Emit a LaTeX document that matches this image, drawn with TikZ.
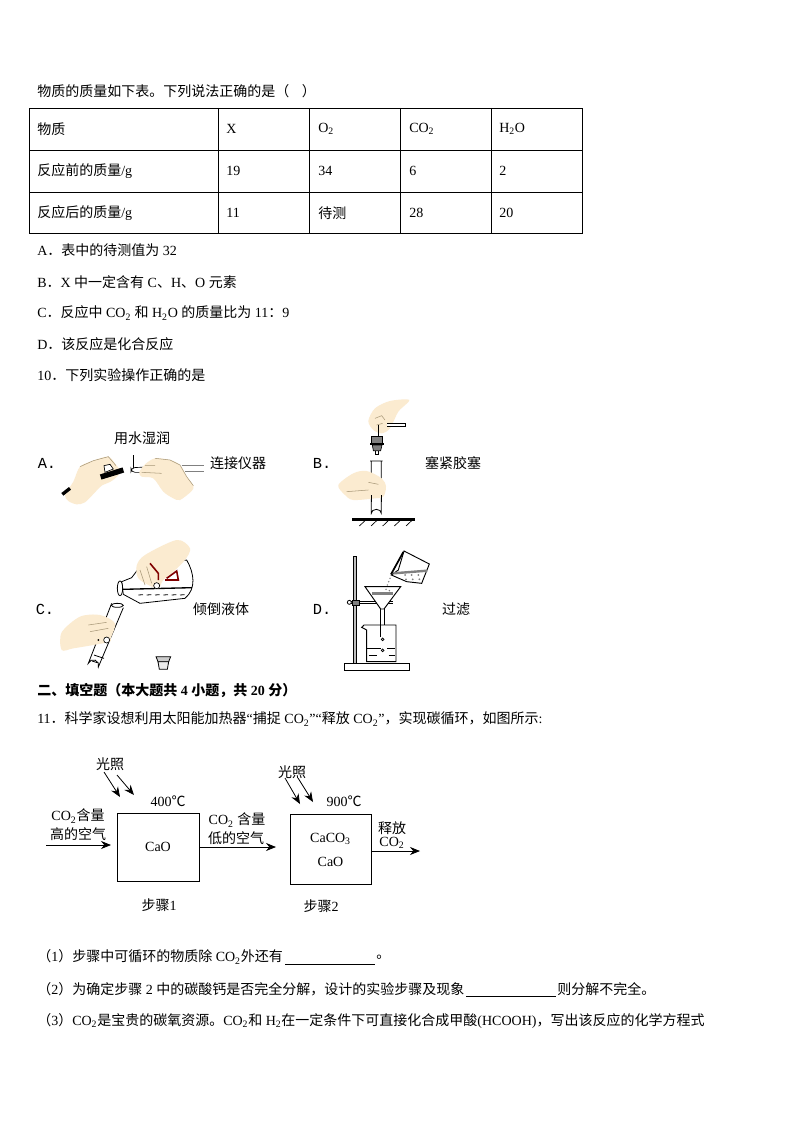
\documentclass[tikz,border=0pt]{standalone}
\usepackage{fontspec}
\setmainfont{Liberation Serif}
\setmonofont{Liberation Mono}
\newfontfamily\cjk{Noto Sans CJK SC}
\newcommand{\zh}[1]{{\cjk #1}}
\newcommand{\low}[1]{\textsubscript{#1}}
\usetikzlibrary{arrows.meta}
\definecolor{handc}{HTML}{FBEBD0}
\definecolor{handl}{HTML}{A89878}
\tikzset{
  txt/.style={anchor=west,inner sep=0pt,font=\fontsize{10.5}{12}\selectfont},
  mid/.style={inner sep=0pt,font=\fontsize{10.5}{12}\selectfont},
  optl/.style={inner sep=0pt,font=\fontsize{11.5}{12}\ttfamily},
  stepbox/.style={draw,line width=.6pt,inner sep=0pt,align=center,font=\fontsize{10.5}{18}\selectfont},
  hand/.style={fill=handc,draw=none},
  crease/.style={draw=handl,line width=.4pt},
  panelA/.style={shift={(30,395)},x=.25pt,y=-.25pt},
  panelB/.style={shift={(310,395)},x=.25pt,y=-.25pt},
  panelC/.style={shift={(30,535)},x=.25pt,y=-.25pt},
  panelD/.style={shift={(310,540)},x=.25pt,y=-.25pt}
}
\begin{document}
\begin{tikzpicture}[x=.75pt,y=-.75pt,>={Stealth[length=7.5pt,width=6pt]}]
\useasboundingbox[fill=white] (0,0) rectangle (794,1123);
\node[txt] (intro) at (37,91) {\zh{物质的质量如下表。下列说法正确的是（\ \ \ \ ）}};
\draw[line width=.7pt] (29,108) rectangle (582,233);
\foreach \yy in {150,192} \draw[line width=.7pt] (29,\yy)--(582,\yy);
\foreach \xx in {218,309,400,491} \draw[line width=.7pt] (\xx,108)--(\xx,233);
\node[txt] (c11) at (37,129) {\zh{物质}};
\node[txt] (c12) at (226,129) {X};
\node[txt] (c13) at (318,129) {O\low{2}};
\node[txt] (c14) at (409,129) {CO\low{2}};
\node[txt] (c15) at (499,129) {H\low{2}O};
\node[txt] (c21) at (37,171) {\zh{反应前的质量}/g};
\node[txt] (c22) at (226,171) {19};
\node[txt] (c23) at (318,171) {34};
\node[txt] (c24) at (409,171) {6};
\node[txt] (c25) at (499,171) {2};
\node[txt] (c31) at (37,213) {\zh{反应后的质量}/g};
\node[txt] (c32) at (226,213) {11};
\node[txt] (c33) at (318,213) {\zh{待测}};
\node[txt] (c34) at (409,213) {28};
\node[txt] (c35) at (499,213) {20};
\node[txt] (optA) at (37,250) {A\zh{．表中的待测值为} 32};
\node[txt] (optB) at (37,282) {B\zh{．}X \zh{中一定含有} C\zh{、}H\zh{、}O \zh{元素}};
\node[txt] (optC) at (37,313) {C\zh{．反应中} CO\low{2} \zh{和} H\low{2}O \zh{的质量比为} 11\zh{：}9};
\node[txt] (optD) at (37,344) {D\zh{．该反应是化合反应}};
\node[txt] (q10) at (37,375) {10\zh{．下列实验操作正确的是}};
\node[optl] (la) at (47,463) {A.};
\node[optl] (lb) at (322,463) {B.};
\node[optl] (lc) at (45,609) {C.};
\node[optl] (ld) at (322,609) {D.};
\node[mid] (capA1) at (142,438) {\zh{用水湿润}};
\node[mid] (capA2) at (238,463) {\zh{连接仪器}};
\node[mid] (capB) at (453,463) {\zh{塞紧胶塞}};
\node[mid] (capC) at (221,609) {\zh{倾倒液体}};
\node[mid] (capD) at (456,609) {\zh{过滤}};
\begin{scope}[panelA]
\fill[hand] plot[smooth cycle] coordinates {(105,300) (130,260) (150,215) (190,197) (235,185) (258,210) (272,232) (245,258) (215,272) (195,292) (165,322) (140,328) (115,318)};
\draw[line width=2.5pt] (97,298)--(120,280);
\draw[crease] (150,215)--(190,197)--(235,185)--(258,212);
\draw[line width=.5pt,fill=white] (222,212)--(240,208)--(250,222)--(225,232)--cycle;
\draw[line width=4pt] (212,246)--(280,225);
\draw[line width=.5pt] (310,180)--(310,222);
\draw[line width=.5pt,fill=white,rounded corners=3pt] (380,215)--(303,218)--(303,232)--(380,232);
\fill[hand] plot[smooth cycle] coordinates {(328,232) (345,208) (375,190) (420,195) (450,210) (470,245) (490,272) (485,288) (450,315) (430,310) (400,290) (370,250) (335,245)};
\draw[crease] (335,232)--(395,235) (345,212)--(375,212) (375,190)--(420,195)--(450,210)--(470,245)--(490,272);
\draw[line width=.7pt,draw=gray] (455,212)--(522,212) (465,228)--(522,228);
\end{scope}
\begin{scope}[panelB]
\fill[hand] plot[smooth cycle] coordinates {(175,78) (195,40) (240,18) (298,15) (265,50) (240,100) (215,115) (190,105)};
\draw[crease] (195,70)--(215,62)--(225,75) (200,90)--(218,85);
\draw[line width=.6pt,fill=white] (232,85)--(285,85)--(285,95)--(232,95);
\draw[line width=.5pt] (205,90)--(205,122);
\draw[line width=.5pt,fill=gray] (185,125)--(218,125)--(218,145)--(185,145)--cycle;
\draw[line width=1.5pt] (181,147)--(222,147);
\draw[line width=.5pt,fill=gray] (187,150)--(216,150)--(212,167)--(190,167)--cycle;
\draw[line width=.5pt] (195,167)--(195,178)--(204,178)--(204,167);
\draw[line width=.6pt] (180,198)--(218,198) (184,198)--(184,355) arc[start angle=180,end angle=360,x radius=15,y radius=12]--(214,198);
\fill[hand] plot[smooth cycle] coordinates {(85,270) (130,235) (170,228) (215,250) (228,275) (220,305) (195,310) (130,315) (105,300)};
\draw[crease] (110,290)--(175,285) (175,262)--(205,268);
\draw[line width=.6pt] (184,300)--(184,320) (214,300)--(214,320);
\draw[line width=2pt] (127,373)--(315,373);
\foreach \xx in {165,200,235,270,305} \draw[line width=.5pt] (\xx,377)--(\xx-17,393);
\end{scope}
\begin{scope}[panelC]
\draw[line width=.6pt,fill=white] (275,140)--(305,128)--(330,95)--(470,75) to[out=-60,in=40] (465,190)--(330,205)--(280,178)--cycle;
\draw[line width=.6pt,fill=white] (270,160) ellipse[x radius=8,y radius=22];
\draw[line width=1pt] (278,163)--(486,158);
\foreach \xx in {325,350,375,400,425,450} \draw[line width=.6pt] (\xx,180)--(\xx+14,179);
\fill[hand] plot[smooth cycle] coordinates {(320,92) (345,60) (440,15) (480,40) (465,75) (430,110) (400,135) (385,160) (365,155) (325,130)};
\draw[line width=1.2pt,draw=red!50!black] (360,85)--(385,115)--(385,135);
\draw[line width=1.2pt,draw=red!50!black] (410,130)--(440,108)--(445,135)--(405,135);
\draw[crease] (330,105)--(345,150) (350,95)--(365,145);
\draw[line width=.5pt,fill=white] (380,152) circle[radius=9];
\draw[line width=.6pt] (245,205)--(175,385) arc[start angle=200,end angle=380,radius=16]--(280,218);
\draw[line width=.6pt,fill=white] (262,211) ellipse[x radius=18,y radius=6];
\draw[line width=.6pt] (192,360)--(222,370) (186,378)--(202,383);
\fill[hand] plot[smooth cycle] coordinates {(95,292) (150,245) (210,240) (255,265) (242,310) (240,320) (190,330) (130,340) (95,345)};
\draw[crease] (175,270)--(230,262) (180,290)--(235,280);
\draw[line width=.5pt,fill=white] (230,315) circle[radius=9];
\fill (205,315) circle[radius=3];
\draw[line width=.6pt,fill=gray!40] (378,365)--(422,365)--(416,380)--(384,380)--cycle;
\draw[line width=.6pt,fill=gray!15] (384,380)--(416,380)--(412,403)--(388,403)--cycle;
\end{scope}
\begin{scope}[panelD]
\draw[line width=.5pt,fill=gray!50] (129,50) rectangle (138,370);
\draw[line width=.6pt,fill=white] (103,370) rectangle (297,392);
\draw[line width=.6pt] (120,183)--(250,183) (120,191)--(250,191);
\draw[line width=.6pt,fill=white] (118,187) circle[radius=6];
\draw[line width=.6pt,fill=gray] (127,180) rectangle (147,195);
\draw[line width=.7pt] (212,205)--(212,290) (222,205)--(222,255);
\draw[line width=.7pt,fill=white] (165,140)--(272,140)--(222,207)--(212,207)--cycle;
\draw[line width=1.8pt,draw=gray] (187,160)--(250,160);
\draw[line width=.7pt] (155,262) to[out=-60,in=180] (162,255)--(258,255)--(258,365)--(170,365)--(170,270)--cycle;
\draw[line width=.6pt,dash pattern=on 10pt off 5pt] (172,325)--(256,325);
\draw[line width=.6pt,dash pattern=on 6pt off 9pt] (176,347)--(256,347);
\draw[line width=.6pt] (218,298) circle[radius=4] (218,331) circle[radius=4];
\draw[line width=.7pt,fill=white] (282,33)--(358,72)--(335,130)--(290,125)--(244,105)--(265,90)--cycle;
\draw[line width=1.3pt] (280,36)--(243,103);
\draw[line width=1.8pt,draw=gray] (250,100)--(352,92);
\foreach \xx in {285,305,325} {\fill[gray] (\xx,105) circle[radius=3]; \fill[gray] (\xx+3,118) circle[radius=3];}
\foreach \xx/\yy in {240/115,236/125,232/135,228/148,238/152} \fill[gray] (\xx,\yy) circle[radius=2.5];
\end{scope}
\node[txt] (sec) at (37,691) {\bfseries\zh{二、填空题（本大题共} 4 \zh{小题，共} 20 \zh{分）}};
\node[txt] (q11) at (37,719) {11\zh{．科学家设想利用太阳能加热器}“\zh{捕捉} CO\low{2}”“\zh{释放} CO\low{2}”\zh{，实现碳循环，如图所示}:};
\node[stepbox,minimum width=61.5pt,minimum height=51pt] (boxA) at (158,847) {CaO};
\node[stepbox,minimum width=60.75pt,minimum height=53pt] (boxB) at (330.5,849.5) {CaCO\low{3}\\CaO};
\coordinate (inS) at (46,845);
\coordinate (inE) at (111,845);
\coordinate (midE) at (276,848);
\coordinate (outE) at (420,851);
\draw[->,line width=.6pt] (inS)--(inE);
\draw[->,line width=.6pt] (boxA)--(boxA-|midE);
\draw[->,line width=.6pt] (boxB.east|-outE)--(outE);
\coordinate (sunA1) at (104,772);
\coordinate (sunA2) at (120,797);
\coordinate (sunA3) at (117,775);
\coordinate (sunA4) at (134,795);
\coordinate (sunB1) at (285,778);
\coordinate (sunB2) at (300,804);
\coordinate (sunB3) at (298,778);
\coordinate (sunB4) at (313,802);
\draw[->,line width=.6pt] (sunA1)--(sunA2);
\draw[->,line width=.6pt] (sunA3)--(sunA4);
\draw[->,line width=.6pt] (sunB1)--(sunB2);
\draw[->,line width=.6pt] (sunB3)--(sunB4);
\node[mid] (lightA) at (110,764) {\zh{光照}};
\node[mid] (lightB) at (292,772) {\zh{光照}};
\node[mid] (tempA) at (168,801) {400\zh{℃}};
\node[mid] (tempB) at (344,801) {900\zh{℃}};
\node[mid] (airA1) at (78,816) {CO\low{2}\zh{含量}};
\node[mid] (airA2) at (78,834) {\zh{高的空气}};
\node[mid] (airB1) at (237,820) {CO\low{2} \zh{含量}};
\node[mid] (airB2) at (236,838) {\zh{低的空气}};
\node[mid] (rel1) at (392,828) {\zh{释放}};
\node[mid] (rel2) at (392,843) {CO\low{2}};
\node[mid] (stepA) at (159,905) {\zh{步骤}1};
\node[mid] (stepB) at (321,906) {\zh{步骤}2};
\node[txt] (a1) at (37,957) {\zh{（}1\zh{）步骤中可循环的物质除} CO\low{2}\zh{外还有}};
\coordinate (u1s) at (285,964);
\coordinate (u1e) at (375,964);
\draw[line width=.6pt] (u1s)--(u1e);
\node[txt] (a1e) at (376,957) {\zh{。}};
\node[txt] (a2) at (37,989) {\zh{（}2\zh{）为确定步骤} 2 \zh{中的碳酸钙是否完全分解，设计的实验步骤及现象}};
\coordinate (u2s) at (466,996);
\coordinate (u2e) at (556,996);
\draw[line width=.6pt] (u2s)--(u2e);
\node[txt] (a2e) at (557,989) {\zh{则分解不完全。}};
\node[txt] (a3) at (37,1021) {\zh{（}3\zh{）}CO\low{2}\zh{是宝贵的碳氧资源。}CO\low{2}\zh{和} H\low{2}\zh{在一定条件下可直接化合成甲酸}(HCOOH)\zh{，写出该反应的化学方程式}};
\end{tikzpicture}
\end{document}
